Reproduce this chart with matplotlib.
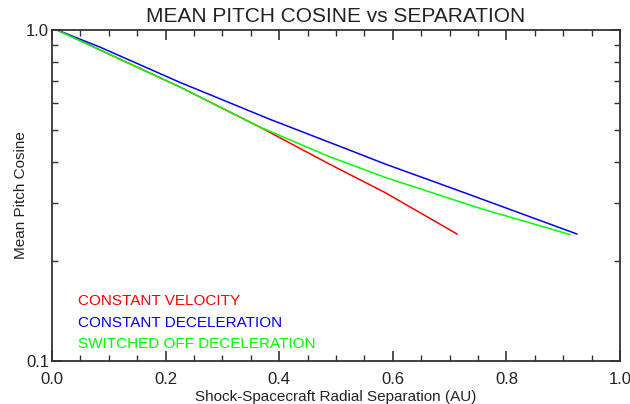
import matplotlib
matplotlib.use("Agg")
import matplotlib.pyplot as plt
from matplotlib.ticker import FixedLocator, NullFormatter, MultipleLocator

plt.rcParams['font.family'] = ['Liberation Sans', 'DejaVu Sans']

# Data
red_x = [0.009, 0.085, 0.225, 0.366, 0.489, 0.586, 0.713]
red_y = [1.0, 0.870, 0.673, 0.509, 0.393, 0.323, 0.242]

blue_x = [0.009, 0.085, 0.225, 0.384, 0.507, 0.586, 0.727, 0.924]
blue_y = [1.0, 0.887, 0.695, 0.537, 0.445, 0.394, 0.322, 0.242]

green_x = [0.009, 0.085, 0.225, 0.366, 0.489, 0.586, 0.754, 0.912]
green_y = [1.0, 0.870, 0.673, 0.509, 0.414, 0.359, 0.289, 0.241]

labels = ["CONSTANT VELOCITY", "CONSTANT DECELERATION", "SWITCHED OFF DECELERATION"]
colors = ["#ff0000", "#0000ff", "#00ff00"]

x_ticks = [0.0, 0.2, 0.4, 0.6, 0.8, 1.0]
x_ticklabels = ["0.0", "0.2", "0.4", "0.6", "0.8", "1.0"]
y_ticks = [0.1, 1.0]
y_ticklabels = ["0.1", "1.0"]
y_minor = [0.2, 0.3, 0.4, 0.5, 0.6, 0.7, 0.8, 0.9]

fig = plt.figure(figsize=(6.3, 4.04), dpi=100)
ax = fig.add_axes([52/630, 43/404, 568/630, 331/404])

ax.plot(red_x, red_y, color=colors[0], lw=1.1)
ax.plot(blue_x, blue_y, color=colors[1], lw=1.1)
ax.plot(green_x, green_y, color=colors[2], lw=1.1)

ax.set_yscale('log')
ax.set_xlim(0, 1.0)
ax.set_ylim(0.1, 1.0)

ax.set_xticks(x_ticks)
ax.set_xticklabels(x_ticklabels)
ax.xaxis.set_minor_locator(MultipleLocator(0.05))

ax.set_yticks(y_ticks)
ax.set_yticklabels(y_ticklabels)
ax.yaxis.set_minor_locator(FixedLocator(y_minor))
ax.yaxis.set_minor_formatter(NullFormatter())

tc = "#222222"
ax.tick_params(which='both', direction='in', top=True, right=True, color='#333333',
               labelcolor=tc, labelsize=12)
ax.tick_params(which='major', length=7, width=1.2)
ax.tick_params(which='minor', length=4, width=1.0)
ax.tick_params(axis='x', which='major', pad=8)
ax.tick_params(axis='y', which='major', pad=2)
for s in ax.spines.values():
    s.set_color('#333333')
    s.set_linewidth(1.3)

ax.set_xlabel("Shock-Spacecraft Radial Separation (AU)", fontsize=11, color=tc, labelpad=2)
ax.set_ylabel("Mean Pitch Cosine", fontsize=11, color=tc, labelpad=-1)
fig.text(336/630, 1 - 17/404, "MEAN PITCH COSINE vs SEPARATION", ha='center', va='center',
         fontsize=15, color=tc)

ys = [0.181, 0.115, 0.051]
for lab, c, y in zip(labels, colors, ys):
    ax.text(0.046, y, lab, color=c, fontsize=11, transform=ax.transAxes, va='center', ha='left')

fig.savefig("out.png", dpi=100)
